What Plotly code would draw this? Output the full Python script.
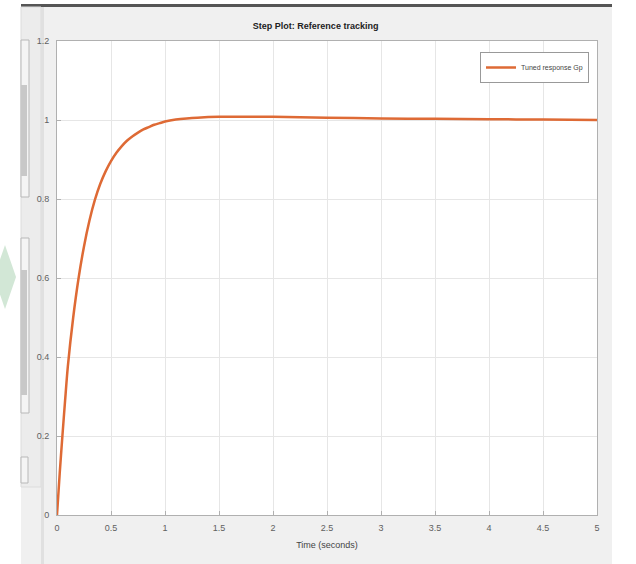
import plotly.graph_objects as go

# Data
time_s = [0, 0.025, 0.05, 0.075, 0.1, 0.15, 0.2, 0.25, 0.3, 0.35, 0.4, 0.45, 0.5,
          0.55, 0.6, 0.65, 0.7, 0.75, 0.8, 0.85, 0.9, 0.95, 1.0, 1.1, 1.2, 1.3,
          1.5, 2.0, 2.5, 3.0, 3.5, 4.0, 4.5, 5.0]
response = [0, 0.105, 0.2, 0.29, 0.375, 0.5, 0.6, 0.68, 0.745, 0.797, 0.838, 0.87, 0.896,
            0.917, 0.934, 0.948, 0.959, 0.968, 0.976, 0.982, 0.988, 0.992, 0.996, 1.001,
            1.004, 1.006, 1.008, 1.008, 1.006, 1.004, 1.003, 1.002, 1.001, 1.0]
x_ticks = [0, 0.5, 1, 1.5, 2, 2.5, 3, 3.5, 4, 4.5, 5]
x_tick_labels = ["0", "0.5", "1", "1.5", "2", "2.5", "3", "3.5", "4", "4.5", "5"]
y_ticks = [0, 0.2, 0.4, 0.6, 0.8, 1.0, 1.2]
y_tick_labels = ["0", "0.2", "0.4", "0.6", "0.8", "1", "1.2"]
series_name = "Tuned response Gp"
title_text = "Step Plot: Reference tracking"
x_title = "Time (seconds)"

W, H = 636, 564
L, R, T, B = 57, 597, 41, 515


def px(x):
    return (x - L) / (R - L)


def py(y):
    return (B - y) / (B - T)


def rect(x0, y0, x1, y1, fill, line=None, lw=0):
    return dict(type="rect", xref="paper", yref="paper", layer="below",
                x0=px(x0), x1=px(x1), y0=py(y1), y1=py(y0),
                fillcolor=fill, line=dict(color=line or fill, width=lw))


shapes = [
    rect(21, 5, 612, 564, "#f0f0f0"),
    rect(21, 4, 612, 7, "#555555"),
    # left GUI panel
    rect(21, 7, 41, 487, "#ececec", "#dcdcdc", 1),
    rect(41, 7, 44, 564, "#e0e0e0"),
    rect(21, 40, 29, 197, "#f4f4f4", "#b8b8b8", 1),
    rect(21, 85, 27, 176, "#c8c8c8"),
    rect(21, 238, 29, 413, "#f4f4f4", "#b8b8b8", 1),
    rect(21, 270, 27, 395, "#c8c8c8"),
    rect(21, 457, 28, 483, "#f4f4f4", "#b8b8b8", 1),
    # plot area
    rect(L, T, R, B, "#ffffff"),
    dict(type="path", xref="paper", yref="paper", layer="below",
         path=f"M {px(0)},{py(277)} L {px(0)},{py(277)} L {px(-1)},{py(277)} Z",
         fillcolor="#cfe5d3", line=dict(width=0)),
    dict(type="path", xref="paper", yref="paper", layer="below",
         path=f"M {px(-6)},{py(277)} L {px(5)},{py(245)} L {px(16)},{py(277)} L {px(5)},{py(309)} Z",
         fillcolor="#d2e7d6", line=dict(width=0)),
]

fig = go.Figure()
fig.add_trace(go.Scatter(
    x=time_s, y=response, mode="lines", name=series_name,
    line=dict(color="#de6a35", width=2.5, shape="spline", smoothing=0.8),
))

fig.update_layout(
    width=W, height=H,
    margin=dict(l=L, r=W - R, t=T, b=H - B),
    paper_bgcolor="#ffffff",
    plot_bgcolor="#ffffff",
    shapes=shapes,
    title=dict(text=title_text, x=px(325), xanchor="center", y=1 - 26 / H, yanchor="middle",
               font=dict(family="Liberation Sans", size=9, color="#222222", weight="bold")),
    font=dict(family="Liberation Sans", size=9, color="#606060"),
    showlegend=True,
    legend=dict(x=px(589), y=py(52), xanchor="right", yanchor="top",
                bgcolor="#ffffff", bordercolor="#999999", borderwidth=1,
                font=dict(size=7, color="#444444"), itemwidth=30,
                tracegroupgap=0),
    xaxis=dict(range=[0, 5], tickvals=x_ticks, ticktext=x_tick_labels,
               showgrid=True, gridcolor="#e6e6e6", gridwidth=1,
               showline=True, linecolor="#b0b0b0", mirror=True,
               ticks="inside", ticklen=4, tickcolor="#b0b0b0",
               ticklabelstandoff=4,
               zeroline=False, fixedrange=True,
               title=dict(text=x_title, font=dict(size=9, color="#444444"), standoff=9)),
    yaxis=dict(range=[0, 1.2], tickvals=y_ticks, ticktext=y_tick_labels,
               showgrid=True, gridcolor="#e6e6e6", gridwidth=1,
               showline=True, linecolor="#b0b0b0", mirror=True,
               ticks="inside", ticklen=4, tickcolor="#b0b0b0",
               ticklabelstandoff=5,
               zeroline=False, fixedrange=True),
)

fig.write_html("out.html")
